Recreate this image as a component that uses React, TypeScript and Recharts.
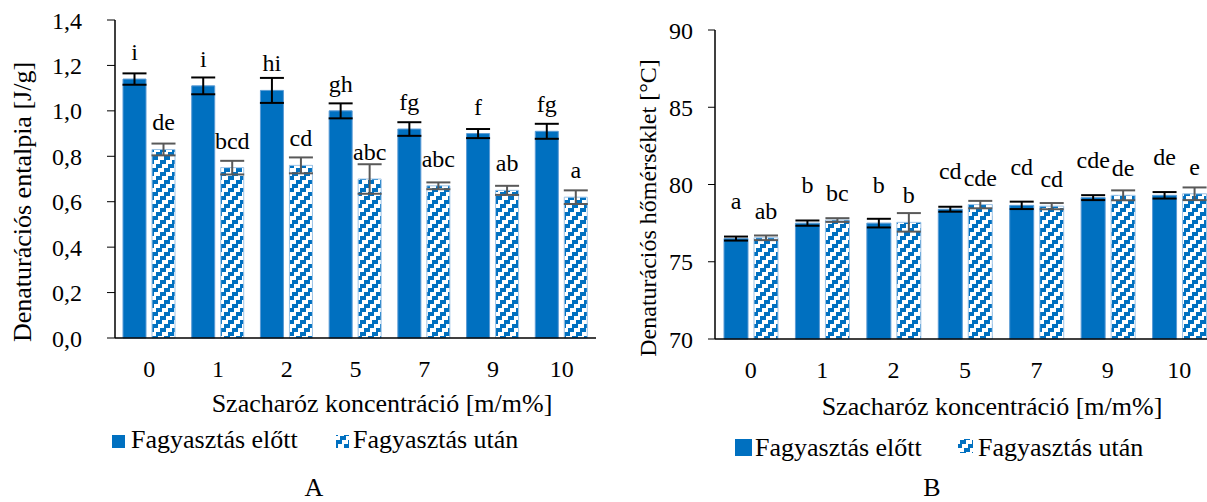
import React from 'react';
import { BarChart, Bar, XAxis, YAxis, ErrorBar, LabelList } from 'recharts';

const categories = ['0', '1', '2', '5', '7', '9', '10'];

// A: denaturációs entalpia [J/g]
const enthalpyBefore = [1.14, 1.11, 1.09, 1.0, 0.92, 0.9, 0.91];
const enthalpyBeforeErr = [0.025, 0.037, 0.055, 0.033, 0.03, 0.02, 0.033];
const enthalpyAfter = [0.83, 0.75, 0.76, 0.7, 0.67, 0.65, 0.62];
const enthalpyAfterErr = [0.026, 0.03, 0.035, 0.065, 0.015, 0.02, 0.03];
const enthalpyBeforeLetters = ['i', 'i', 'hi', 'gh', 'fg', 'f', 'fg'];
const enthalpyAfterLetters = ['de', 'bcd', 'cd', 'abc', 'abc', 'ab', 'a'];
const enthalpyTicks = [0, 0.2, 0.4, 0.6, 0.8, 1.0, 1.2, 1.4];

// B: denaturációs hőmérséklet [°C]
const tempBefore = [76.5, 77.5, 77.5, 78.4, 78.65, 79.15, 79.3];
const tempBeforeErr = [0.13, 0.17, 0.28, 0.16, 0.24, 0.16, 0.21];
const tempAfter = [76.55, 77.7, 77.55, 78.7, 78.6, 79.3, 79.4];
const tempAfterErr = [0.15, 0.12, 0.6, 0.24, 0.2, 0.32, 0.41];
const tempBeforeLetters = ['a', 'b', 'b', 'cd', 'cd', 'cde', 'de'];
const tempAfterLetters = ['ab', 'bc', 'b', 'cde', 'cd', 'de', 'e'];
const tempTicks = [70, 75, 80, 85, 90];

const FONT = '"Liberation Serif", "Times New Roman", serif';
const BLUE = '#0070C0';

const build = (
  before: number[], beforeErr: number[], after: number[], afterErr: number[],
  beforeLbl: string[], afterLbl: string[],
) =>
  categories.map((cat, i) => ({
    cat,
    before: before[i],
    beforeErr: beforeErr[i],
    after: after[i],
    afterErr: afterErr[i],
    beforeLbl: beforeLbl[i],
    afterLbl: afterLbl[i],
  }));

const dataA = build(enthalpyBefore, enthalpyBeforeErr, enthalpyAfter, enthalpyAfterErr, enthalpyBeforeLetters, enthalpyAfterLetters);
const dataB = build(tempBefore, tempBeforeErr, tempAfter, tempAfterErr, tempBeforeLetters, tempAfterLetters);

const tickStyle = { fill: '#000', fontSize: 24, fontFamily: FONT };
const axisLine = { stroke: '#000', strokeWidth: 1.5 };

// blocky "wide upward diagonal" fill, like the Excel pattern
const HatchDefs = () => (
  <svg width={0} height={0} style={{ position: 'absolute' }}>
    <defs>
      <pattern id="hatch" patternUnits="userSpaceOnUse" width={12} height={12}>
        <rect width={12} height={12} fill="#fff" />
        <g fill={BLUE} shapeRendering="crispEdges">
          <rect x={8} y={0} width={4} height={4} />
          <rect x={0} y={0} width={2} height={4} />
          <rect x={4} y={4} width={6} height={4} />
          <rect x={0} y={8} width={6} height={4} />
        </g>
      </pattern>
    </defs>
  </svg>
);

const bars = (solidOffset: number, hatchOffset: number) => [
  <Bar key="b" dataKey="before" fill={BLUE} stroke="#5B9BD5" strokeWidth={1} isAnimationActive={false}>
    <ErrorBar dataKey="beforeErr" width={12} stroke="#000" strokeWidth={2} direction="y" isAnimationActive={false} />
    <LabelList dataKey="beforeLbl" position="top" offset={solidOffset} fill="#000" fontSize={24} fontFamily={FONT} />
  </Bar>,
  <Bar key="a" dataKey="after" fill="url(#hatch)" stroke="#9DC3E6" strokeWidth={1} isAnimationActive={false}>
    <ErrorBar dataKey="afterErr" width={12} stroke="#595959" strokeWidth={2} direction="y" isAnimationActive={false} />
    <LabelList dataKey="afterLbl" position="top" offset={hatchOffset} fill="#000" fontSize={24} fontFamily={FONT} />
  </Bar>,
];

export default function App() {
  return (
    <div
      style={{
        position: 'fixed', left: 0, top: 0, width: 1207, height: 502,
        overflow: 'hidden', background: '#fff', fontFamily: FONT,
      }}
    >
      <HatchDefs />
      <div style={{ position: 'absolute', left: 0, top: 0 }}>
        <BarChart width={600} height={390} data={dataA} margin={{ top: 20, right: 4, bottom: 0, left: 0 }}
          barCategoryGap={8} barGap={6}>
          <XAxis dataKey="cat" height={52} tickLine={false} axisLine={axisLine} tickSize={6} tickMargin={16}
            interval={0} tick={tickStyle} />
          <YAxis width={115} domain={[0, 1.4]} ticks={enthalpyTicks} tickSize={8} tickMargin={25}
            axisLine={axisLine} tickLine={{ stroke: '#000' }} tick={tickStyle}
            tickFormatter={(v: number) => v.toFixed(1).replace('.', ',')} />
          {bars(19, 19)}
        </BarChart>
      </div>
      <div style={{ position: 'absolute', left: 600, top: 0 }}>
        <BarChart width={615} height={391} data={dataB} margin={{ top: 30, right: 0, bottom: 0, left: 0 }}
          barCategoryGap={9} barGap={6}>
          <XAxis dataKey="cat" height={52} tickLine={false} axisLine={axisLine} tickSize={6} tickMargin={16}
            interval={0} tick={tickStyle} />
          <YAxis width={115} domain={[70, 90]} ticks={tempTicks} tickSize={7} tickMargin={15}
            axisLine={axisLine} tickLine={{ stroke: '#000' }} tick={tickStyle} />
          {bars(30, 19)}
        </BarChart>
      </div>
      <svg width={1207} height={502} style={{ position: 'absolute', left: 0, top: 0, pointerEvents: 'none' }}
        fontFamily={FONT} fill="#000">
        <text transform="translate(31,202) rotate(-90)" textAnchor="middle" fontSize={26}>
          Denaturációs entalpia [J/g]
        </text>
        <text x={382} y={412} textAnchor="middle" fontSize={26}>Szacharóz koncentráció [m/m%]</text>
        <rect x={112} y={435} width={13} height={13} fill={BLUE} />
        <text x={131} y={448} fontSize={26}>Fagyasztás előtt</text>
        <rect x={336} y={435} width={13} height={13} fill="url(#hatch)" />
        <text x={353} y={448} fontSize={26}>Fagyasztás után</text>
        <text x={314} y={496} textAnchor="middle" fontSize={26}>A</text>

        <text transform="translate(656,208) rotate(-90)" textAnchor="middle" fontSize={24}>
          Denaturációs hőmérséklet [°C]
        </text>
        <text x={992} y={415} textAnchor="middle" fontSize={26}>Szacharóz koncentráció [m/m%]</text>
        <rect x={735} y={439} width={17} height={17} fill={BLUE} />
        <text x={755} y={456} fontSize={26}>Fagyasztás előtt</text>
        <rect x={958} y={439} width={15} height={14} fill="url(#hatch)" />
        <text x={978} y={456} fontSize={26}>Fagyasztás után</text>
        <text x={932} y={496} textAnchor="middle" fontSize={26}>B</text>
      </svg>
    </div>
  );
}
